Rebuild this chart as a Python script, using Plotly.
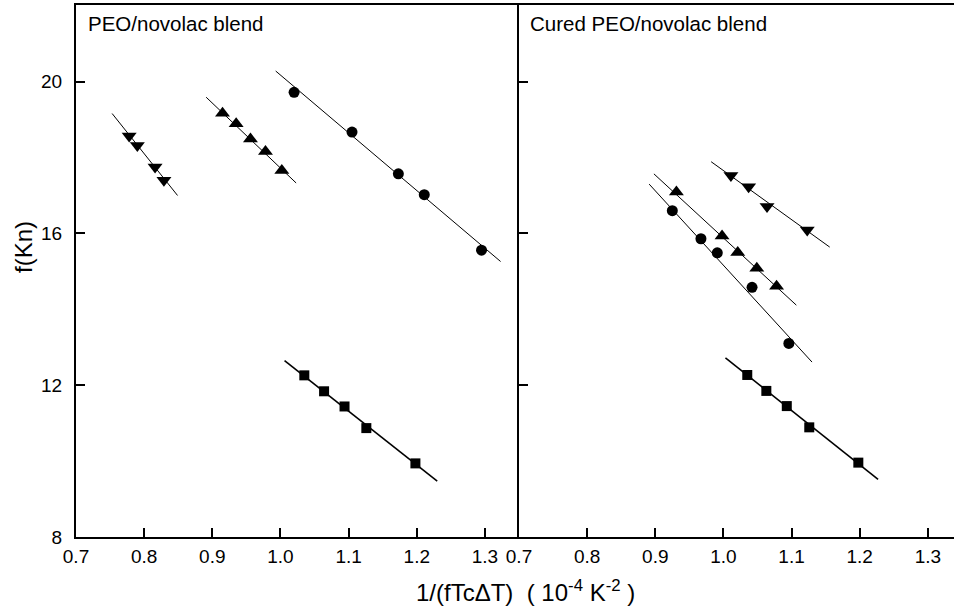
import plotly.graph_objects as go

# ---- Data ----
# Left panel: PEO/novolac blend
L_dtri_x = [0.778, 0.790, 0.816, 0.829]
L_dtri_y = [18.57, 18.32, 17.75, 17.40]
L_dtri_line_x = [0.753, 0.849]
L_dtri_line_y = [19.16, 17.00]

L_utri_x = [0.915, 0.935, 0.956, 0.978, 1.002]
L_utri_y = [19.17, 18.89, 18.49, 18.16, 17.66]
L_utri_line_x = [0.891, 1.023]
L_utri_line_y = [19.59, 17.33]

L_circ_x = [1.020, 1.105, 1.173, 1.211, 1.295]
L_circ_y = [19.72, 18.67, 17.57, 17.02, 15.56]
L_circ_line_x = [0.993, 1.323]
L_circ_line_y = [20.28, 15.26]

L_sq_x = [1.035, 1.064, 1.094, 1.126, 1.198]
L_sq_y = [12.26, 11.84, 11.44, 10.87, 9.94]
L_sq_line_x = [1.006, 1.230]
L_sq_line_y = [12.65, 9.47]

# Right panel: Cured PEO/novolac blend
R_dtri_x = [1.011, 1.037, 1.064, 1.123]
R_dtri_y = [17.53, 17.23, 16.71, 16.09]
R_dtri_line_x = [0.982, 1.156]
R_dtri_line_y = [17.89, 15.64]

R_utri_x = [0.931, 0.998, 1.021, 1.049, 1.078]
R_utri_y = [17.09, 15.93, 15.50, 15.08, 14.61]
R_utri_line_x = [0.898, 1.107]
R_utri_line_y = [17.57, 14.11]

R_circ_x = [0.925, 0.967, 0.991, 1.042, 1.096]
R_circ_y = [16.60, 15.86, 15.49, 14.58, 13.10]
R_circ_line_x = [0.891, 1.130]
R_circ_line_y = [17.30, 12.61]

R_sq_x = [1.035, 1.063, 1.093, 1.126, 1.198]
R_sq_y = [12.27, 11.85, 11.45, 10.89, 9.96]
R_sq_line_x = [1.003, 1.227]
R_sq_line_y = [12.72, 9.52]

x_ticks = [0.7, 0.8, 0.9, 1.0, 1.1, 1.2, 1.3]
x_tick_labels = ["0.7", "0.8", "0.9", "1.0", "1.1", "1.2", "1.3"]
y_ticks = [8, 12, 16, 20]
y_tick_labels = ["8", "12", "16", "20"]

FONT = "Liberation Sans, Arial, sans-serif"

fig = go.Figure()


def add_series(xs, ys, lx, ly, symbol, size, xa, ya, lw=1.0):
    fig.add_trace(go.Scatter(x=lx, y=ly, mode="lines",
                             line=dict(color="black", width=lw),
                             xaxis=xa, yaxis=ya, showlegend=False, hoverinfo="skip"))
    fig.add_trace(go.Scatter(x=xs, y=ys, mode="markers",
                             marker=dict(symbol=symbol, size=size, color="black",
                                         line=dict(width=0)),
                             xaxis=xa, yaxis=ya, showlegend=False))


add_series(L_dtri_x, L_dtri_y, L_dtri_line_x, L_dtri_line_y, "triangle-down", 13, "x", "y")
add_series(L_utri_x, L_utri_y, L_utri_line_x, L_utri_line_y, "triangle-up", 13, "x", "y")
add_series(L_circ_x, L_circ_y, L_circ_line_x, L_circ_line_y, "circle", 11, "x", "y")
add_series(L_sq_x, L_sq_y, L_sq_line_x, L_sq_line_y, "square", 10, "x", "y", lw=1.6)

add_series(R_dtri_x, R_dtri_y, R_dtri_line_x, R_dtri_line_y, "triangle-down", 13, "x2", "y2")
add_series(R_utri_x, R_utri_y, R_utri_line_x, R_utri_line_y, "triangle-up", 13, "x2", "y2")
add_series(R_circ_x, R_circ_y, R_circ_line_x, R_circ_line_y, "circle", 11, "x2", "y2")
add_series(R_sq_x, R_sq_y, R_sq_line_x, R_sq_line_y, "square", 10, "x2", "y2", lw=1.6)

split = 443 / 878

common_x = dict(tickvals=x_ticks, ticktext=x_tick_labels, ticks="inside", ticklen=9,
                tickwidth=2, tickcolor="black", showline=True, linecolor="black",
                linewidth=2, mirror=True, showgrid=False, zeroline=False,
                tickfont=dict(family=FONT, size=19, color="black"),
                ticklabelstandoff=1)
common_y = dict(range=[8, 22.02], tickvals=y_ticks, ticks="inside", ticklen=9,
                tickwidth=2, tickcolor="black", showline=True, linecolor="black",
                linewidth=2, showgrid=False, zeroline=False,
                tickfont=dict(family=FONT, size=19, color="black"))

fig.update_layout(
    width=954, height=611,
    margin=dict(l=76, r=0, t=5, b=74),
    paper_bgcolor="white", plot_bgcolor="white",
    font=dict(family=FONT, color="black"),
    xaxis=dict(domain=[0, split], range=[0.7, 1.35], anchor="y", **common_x),
    xaxis2=dict(domain=[split, 1], range=[0.7, 1.3384], anchor="y2", **common_x),
    yaxis=dict(domain=[0, 1], anchor="x", ticktext=y_tick_labels,
               ticklabelstandoff=8, **common_y),
    yaxis2=dict(domain=[0, 1], anchor="x2", showticklabels=False, **common_y),
)

fig.add_annotation(text="PEO/novolac blend", xref="paper", yref="paper",
                   x=(86 - 76) / 878, y=(537 - 24) / 532, xanchor="left", yanchor="middle",
                   showarrow=False, font=dict(family=FONT, size=20.5, color="black"))
fig.add_annotation(text="Cured PEO/novolac blend", xref="paper", yref="paper",
                   x=(528 - 76) / 878, y=(537 - 24) / 532, xanchor="left", yanchor="middle",
                   showarrow=False, font=dict(family=FONT, size=20.5, color="black"))
fig.add_annotation(text="f(Kn)", xref="paper", yref="paper",
                   x=(23 - 76) / 878, y=(537 - 247) / 532, textangle=-90,
                   xanchor="center", yanchor="middle",
                   showarrow=False, font=dict(family=FONT, size=24, color="black"))
fig.add_annotation(text="1/(fTcΔT)  ( 10<sup>-4</sup> K<sup>-2</sup> )", xref="paper", yref="paper",
                   x=(525 - 76) / 878, y=(537 - 591) / 532,
                   xanchor="center", yanchor="middle",
                   showarrow=False, font=dict(family=FONT, size=24, color="black"))

fig.write_html("out.html")
